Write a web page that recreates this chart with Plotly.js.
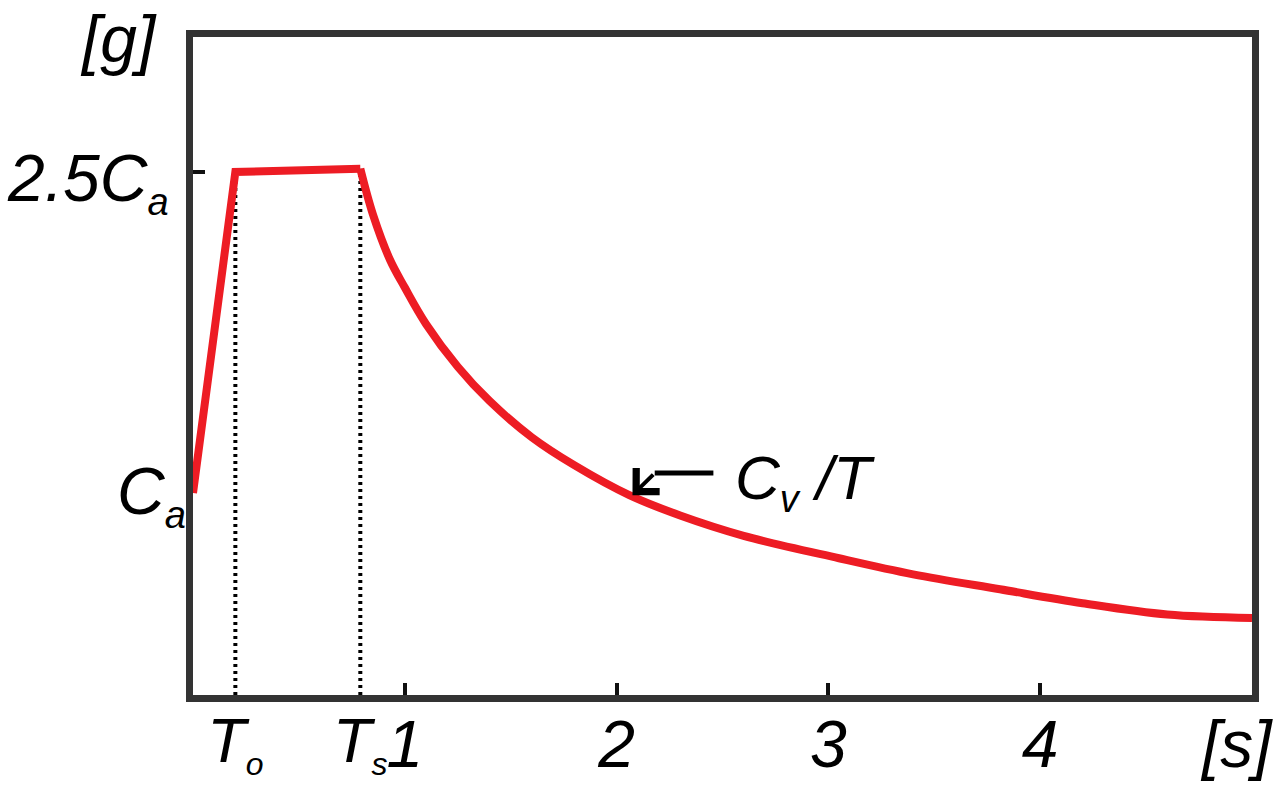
<!DOCTYPE html>
<html>
<head>
<meta charset="utf-8">
<script src="https://cdn.plot.ly/plotly-3.0.1.min.js"></script>
<style>
  html, body { margin: 0; padding: 0; background: #fff; }
  #chart { width: 1280px; height: 787px; }
</style>
</head>
<body>
<div id="chart"></div>
<script>
// ---- data (Ca = 1 unit) ----
const Ca = 1;
const T0 = 0.2;      // To
const Ts = 0.79;     // Ts
const period = [0, 0.2, 0.79, 0.85, 0.93, 1.0, 1.1, 1.25, 1.4, 1.6, 1.8, 2.06, 2.3, 2.6, 3.05, 3.4, 3.81, 4.2, 4.6, 5.0];
const accel  = [1.0, 2.5, 2.515, 2.3, 2.09, 1.96, 1.79, 1.59, 1.43, 1.26, 1.13, 0.99, 0.895, 0.80, 0.695, 0.62, 0.55, 0.485, 0.432, 0.416];
const xTickVals = [1, 2, 3, 4];
const xTickText = ['1', '2', '3', '4'];
const xRange = [0, 5];
const yRange = [0.056, 3.131];
// arrow for Cv/T label
const arrowTip  = [2.075, 0.99];
const arrowBend = [2.18, 1.093];
const arrowTail = [2.457, 1.093];

const RED = '#ED1C24';
const FONT = 'Liberation Sans, Arial, Helvetica, sans-serif';
const FS = 66;
const sub = (s, px) => '<sub><span style="font-size:' + (px || 38) + 'px">' + s + '</span></sub>';

const traces = [
  { // dotted guide at To
    x: [T0, T0], y: [yRange[0], accel[1]], mode: 'lines',
    line: { color: '#000', width: 4, dash: '3px,4px' }, hoverinfo: 'skip'
  },
  { // dotted guide at Ts
    x: [Ts, Ts], y: [yRange[0], accel[2]], mode: 'lines',
    line: { color: '#000', width: 4, dash: '3px,4px' }, hoverinfo: 'skip'
  },
  { // arrow horizontal part
    x: [arrowBend[0], arrowTail[0]], y: [arrowBend[1], arrowTail[1]], mode: 'lines',
    line: { color: '#000', width: 5 }, hoverinfo: 'skip'
  },
  { // rising branch + plateau
    x: period.slice(0, 3), y: accel.slice(0, 3), mode: 'lines',
    line: { color: RED, width: 8 }
  },
  { // Cv/T branch
    x: period.slice(2), y: accel.slice(2), mode: 'lines',
    line: { color: RED, width: 8, shape: 'spline', smoothing: 1 }
  },
  { // invisible trace on the overlay axes
    x: [T0, Ts], y: [yRange[0], yRange[0]], xaxis: 'x2', yaxis: 'y2',
    mode: 'markers', marker: { opacity: 0 }, hoverinfo: 'skip'
  }
];

const layout = {
  width: 1280, height: 787,
  margin: { l: 193, r: 28, t: 37, b: 92, pad: 0 },
  paper_bgcolor: '#fff', plot_bgcolor: '#fff',
  showlegend: false,
  font: { family: FONT, color: '#000', size: FS },
  xaxis: {
    range: xRange, tickvals: xTickVals,
    ticktext: xTickText.map(t => '<i>' + t + '</i>'),
    ticks: 'inside', ticklen: 12, tickwidth: 4, tickcolor: '#111',
    showline: true, linewidth: 7, linecolor: '#333', mirror: true,
    showgrid: false, zeroline: false,
    tickfont: { family: FONT, size: FS, color: '#000' },
    ticklabelstandoff: -14
  },
  yaxis: {
    range: yRange, tickvals: [2.5 * Ca], ticktext: [''],
    ticks: 'inside', ticklen: 12, tickwidth: 4, tickcolor: '#111',
    showline: true, linewidth: 7, linecolor: '#333', mirror: true,
    showgrid: false, zeroline: false
  },
  xaxis2: {
    range: xRange, overlaying: 'x', anchor: 'y2', side: 'bottom',
    tickvals: [T0, Ts],
    ticktext: ['<i>T' + sub('o', 32) + '</i>', '<i>T' + sub('s', 32) + '</i>'],
    ticks: '', showline: false, showgrid: false, zeroline: false,
    tickfont: { family: FONT, size: 63, color: '#000' },
    ticklabelstandoff: 3
  },
  yaxis2: {
    range: yRange, overlaying: 'y', anchor: 'x2',
    showticklabels: false, ticks: '', showline: false, showgrid: false, zeroline: false
  },
  annotations: [
    { text: '<i>2.5C' + sub('a') + '</i>', xref: 'paper', yref: 'y', x: 0, y: 2.5 * Ca,
      xanchor: 'right', yanchor: 'middle', xshift: -22, yshift: -10, showarrow: false,
      font: { family: FONT, size: FS, color: '#000' } },
    { text: '<i>C' + sub('a') + '</i>', xref: 'paper', yref: 'y', x: 0, y: Ca,
      xanchor: 'right', yanchor: 'middle', xshift: -5, yshift: -2, showarrow: false,
      font: { family: FONT, size: FS, color: '#000' } },
    { text: '<i>[g]</i>', xref: 'paper', yref: 'paper', x: 0, y: 1,
      xanchor: 'right', yanchor: 'top', xshift: -34, yshift: 37, showarrow: false,
      font: { family: FONT, size: FS, color: '#000' } },
    { text: '<i>[s]</i>', xref: 'paper', yref: 'paper', x: 1, y: 0,
      xanchor: 'center', yanchor: 'middle', xshift: -16, yshift: -49, showarrow: false,
      font: { family: FONT, size: FS, color: '#000' } },
    { text: '<i>C' + sub('v') + ' /T</i>', xref: 'x', yref: 'y', x: arrowTail[0], y: arrowTail[1],
      xanchor: 'left', yanchor: 'middle', xshift: 20, yshift: -8, showarrow: false,
      font: { family: FONT, size: 62, color: '#000' } },
    { text: '', xref: 'x', yref: 'y', x: arrowTip[0], y: arrowTip[1],
      axref: 'x', ayref: 'y', ax: arrowBend[0], ay: arrowBend[1],
      showarrow: true, arrowhead: 4, arrowsize: 1.6, arrowwidth: 4, arrowcolor: '#000',
      standoff: 0, startstandoff: 0 }
  ]
};

Plotly.newPlot('chart', traces, layout, { displayModeBar: false, staticPlot: true });
</script>
</body>
</html>
